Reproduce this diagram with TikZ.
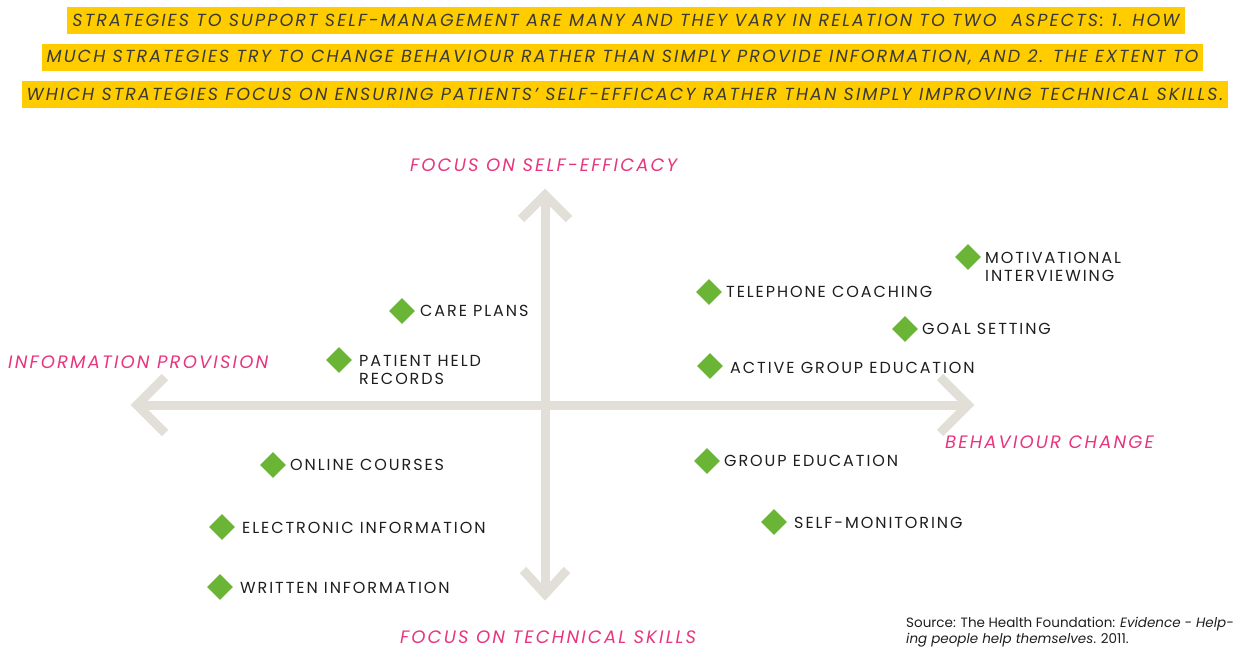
\documentclass[tikz,border=0pt]{standalone}
\usepackage{fontspec}
\setmainfont{Poppins}
\usetikzlibrary{shapes.geometric}
\definecolor{axisgray}{HTML}{E2DFD8}
\definecolor{dgreen}{HTML}{6BB536}
\definecolor{hpink}{HTML}{E8357E}
\definecolor{hyellow}{HTML}{FFCC00}
\definecolor{htext}{HTML}{3A3A3A}
\definecolor{ltext}{HTML}{1E1E1E}
\begin{document}
\begin{tikzpicture}[x=1pt,y=-1pt,
  band/.style={fill=hyellow,inner xsep=5pt,inner ysep=0pt,minimum height=27pt,text=htext,font=\fontsize{17.5}{18}\selectfont\itshape\addfontfeatures{LetterSpace=12}},
  axislab/.style={text=hpink,inner sep=0pt,anchor=west,text depth=0pt,font=\fontsize{18}{20}\selectfont\itshape\addfontfeatures{LetterSpace=12}},
  axisline/.style={draw=axisgray,line width=9pt},
  chev/.style={draw=axisgray,line width=9pt,miter limit=10},
  dia/.style={diamond,aspect=1,fill=dgreen,minimum size=26pt,inner sep=0pt},
  lab/.style={text=ltext,inner sep=0pt,anchor=west,align=left,font=\fontsize{16}{18.5}\selectfont\addfontfeatures{LetterSpace=12}}
]
\useasboundingbox (0,0) rectangle (1237,648);
% header
\node[band] (h1) at (626,20) {STRATEGIES TO SUPPORT SELF-MANAGEMENT ARE MANY AND THEY VARY IN RELATION TO TWO\ \ ASPECTS: 1. HOW};
\node[band] (h2) at (622.5,57) {MUCH STRATEGIES TRY TO CHANGE BEHAVIOUR RATHER THAN SIMPLY PROVIDE INFORMATION, AND 2. THE EXTENT TO};
\node[band] (h3) at (625,94) {WHICH STRATEGIES FOCUS ON ENSURING PATIENTS' SELF-EFFICACY RATHER THAN SIMPLY IMPROVING TECHNICAL SKILLS.};
% axes
\coordinate (L) at (137,405);
\coordinate (R) at (968,405);
\coordinate (T) at (545,195);
\coordinate (B) at (545,594);
\draw[axisline] (L) -- (R);
\draw[axisline] (T) -- (B);
\draw[chev] ([shift={(28,-28)}]L) -- (L) -- ([shift={(28,28)}]L);
\draw[chev] ([shift={(-28,-28)}]R) -- (R) -- ([shift={(-28,28)}]R);
\draw[chev] ([shift={(-24,24)}]T) -- (T) -- ([shift={(24,24)}]T);
\draw[chev] ([shift={(-22,-24)}]B) -- (B) -- ([shift={(22,-24)}]B);
% axis labels
\node[axislab] (se) at (410,165) {FOCUS ON SELF-EFFICACY};
\node[axislab] (ip) at (8,362) {INFORMATION PROVISION};
\node[axislab] (bc) at (945,442) {BEHAVIOUR CHANGE};
\node[axislab] (ts) at (400,637) {FOCUS ON TECHNICAL SKILLS};
% items
\node[dia] (d1) at (402,311) {};
\node[lab] (l1) at (420,311) {CARE PLANS};
\node[dia] (d2) at (339,360) {};
\node[lab,anchor=north west] (l2) at (359,355) {PATIENT HELD\\RECORDS};
\node[dia] (d3) at (709,292) {};
\node[lab] (l3) at (726,292) {TELEPHONE COACHING};
\node[dia] (d4) at (968,257) {};
\node[lab,anchor=north west] (l4) at (985,252) {MOTIVATIONAL\\INTERVIEWING};
\node[dia] (d5) at (905,329) {};
\node[lab] (l5) at (922,329) {GOAL SETTING};
\node[dia] (d6) at (710,366) {};
\node[lab] (l6) at (730,368) {ACTIVE GROUP EDUCATION};
\node[dia] (d7) at (273,465) {};
\node[lab] (l7) at (290,465) {ONLINE COURSES};
\node[dia] (d8) at (707,461) {};
\node[lab] (l8) at (724,461) {GROUP EDUCATION};
\node[dia] (d9) at (222,527) {};
\node[lab] (l9) at (242,528) {ELECTRONIC INFORMATION};
\node[dia] (d10) at (774,522) {};
\node[lab] (l10) at (794,523) {SELF-MONITORING};
\node[dia] (d11) at (220,587) {};
\node[lab] (l11) at (240,588) {WRITTEN INFORMATION};
% source
\node[text=ltext,inner sep=0pt,anchor=north west,align=left,font=\fontsize{13.5}{16}\selectfont] (src) at (906,617) {Source: The Health Foundation: \textit{Evidence - Help-}\\\textit{ing people help themselves}. 2011.};
\end{tikzpicture}
\end{document}
